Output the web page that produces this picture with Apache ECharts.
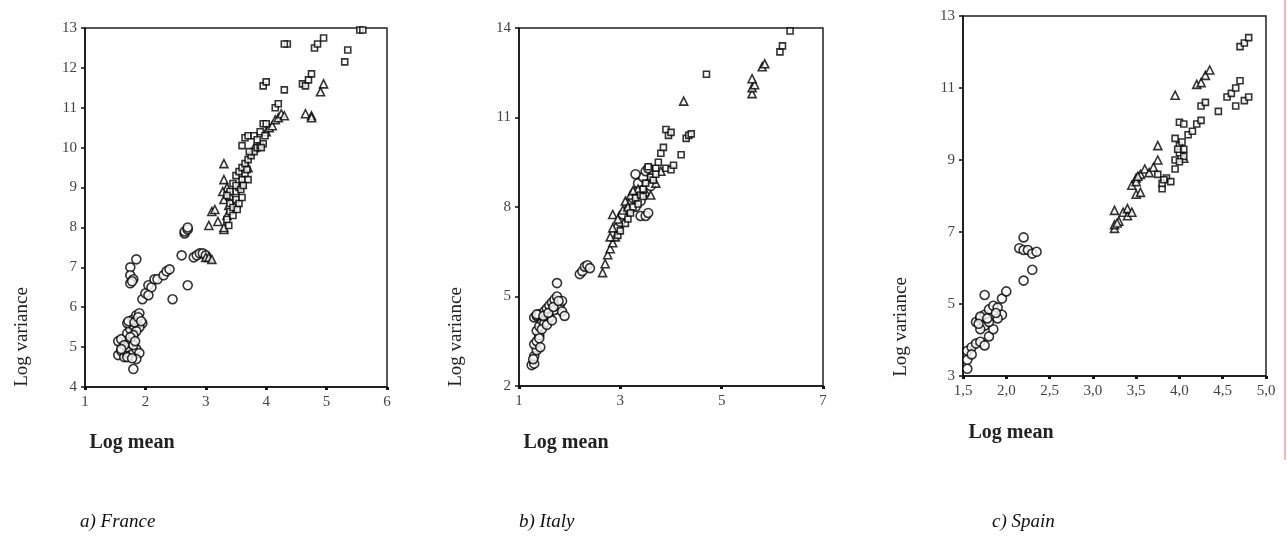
<!DOCTYPE html>
<html>
<head>
<meta charset="utf-8">
<script src="https://cdn.jsdelivr.net/npm/echarts@6/dist/echarts.min.js"></script>
<style>
html,body{margin:0;padding:0;background:#fff;}
#c{width:1287px;height:536px;}
</style>
</head>
<body>
<div id="c"></div>
<script>
// ---------- France ----------
const franceCircles = [[1.55,5.15],[1.6,5.2],[1.55,4.8],[1.6,4.9],[1.65,4.75],[1.7,4.85],[1.75,4.8],[1.8,4.9],[1.85,4.95],[1.7,5.0],[1.75,5.1],[1.8,5.05],[1.9,4.85],[1.85,4.7],[1.8,4.45],[1.7,5.35],[1.75,5.45],[1.8,5.55],[1.75,5.65],[1.7,5.6],[1.8,5.7],[1.85,5.8],[1.9,5.85],[1.95,5.6],[1.9,5.5],[1.85,5.4],[1.8,5.3],[1.75,5.25],[1.65,5.05],[1.6,4.95],
  [1.7,4.75],[1.78,4.72],[1.83,5.15],[1.72,5.65],[1.82,5.62],[1.88,5.75],[1.93,5.65],
  [1.75,7.0],[1.75,6.8],[1.8,6.7],[1.75,6.6],[1.85,7.2],[1.78,6.65],
  [1.95,6.2],[2.0,6.35],[2.05,6.55],[2.1,6.5],[2.15,6.7],[2.2,6.7],[2.3,6.8],[2.35,6.9],[2.4,6.95],[2.05,6.3],
  [2.45,6.2],[2.6,7.3],[2.7,6.55],[2.65,7.85],[2.65,7.9],[2.7,7.95],[2.7,8.0],
  [2.8,7.25],[2.85,7.3],[2.9,7.35],[2.95,7.35],[3.0,7.3]];
const franceTriangles = [[3.0,7.25],[3.05,7.25],[3.1,7.2],[3.05,8.05],[3.1,8.4],[3.15,8.45],[3.2,8.15],[3.3,9.6],[3.3,9.2],[3.3,8.7],[3.35,9.0],[3.3,7.95],[3.3,8.0],[3.35,8.3],[3.4,8.8],[3.5,8.6],[3.6,9.1],[3.7,9.5],[3.8,10.0],[4.0,10.4],[4.05,10.5],[4.1,10.55],[4.15,10.7],[4.2,10.75],[4.25,10.85],[4.3,10.8],[4.65,10.85],[4.75,10.8],[4.75,10.75],[4.95,11.6],[4.9,11.4],[3.28,8.9],[3.38,8.55]];
const franceSquares = [[3.35,8.2],[3.4,8.4],[3.4,8.6],[3.45,8.5],[3.5,8.7],[3.5,8.9],[3.55,8.6],[3.6,8.75],[3.55,9.0],[3.6,9.2],[3.5,9.3],[3.55,9.4],[3.6,9.5],[3.65,9.35],[3.7,9.2],[3.65,9.6],[3.7,9.7],[3.75,9.8],[3.8,9.9],[3.85,10.0],[3.9,10.05],[3.95,10.1],[3.6,10.05],[3.65,10.25],[3.7,10.3],[3.8,10.3],[3.9,10.4],[3.95,10.6],[4.0,10.6],[4.15,11.0],[4.2,11.1],[3.95,11.55],[4.0,11.65],[4.3,11.45],[4.35,12.6],[4.3,12.6],[4.6,11.6],[4.65,11.55],[4.7,11.7],[4.75,11.85],[4.8,12.5],[4.85,12.6],[4.95,12.75],[5.3,12.15],[5.35,12.45],[5.55,12.95],[5.6,12.95],[3.4,8.9],[3.45,9.1],[3.35,8.8],[3.5,9.05],
  [3.38,8.05],[3.45,8.3],[3.52,8.45],[3.58,8.95],[3.62,9.05],[3.68,9.45],[3.72,9.9],[3.85,10.2],[3.98,10.3],[3.92,10.0]];

// ---------- Italy ----------
const italyCircles = [[1.25,2.7],[1.3,2.75],[1.3,3.0],[1.35,3.2],[1.3,3.4],[1.35,3.5],[1.4,3.7],[1.35,3.85],[1.4,4.0],[1.45,4.2],[1.3,4.3],[1.35,4.35],[1.4,4.4],[1.5,4.5],[1.55,4.6],[1.6,4.7],[1.65,4.8],[1.7,4.9],[1.75,5.0],[1.6,4.3],[1.5,4.1],[1.45,3.9],[1.55,4.05],[1.7,4.55],[1.8,4.7],[1.85,4.5],[1.9,4.35],[1.85,4.85],[1.75,5.45],[1.65,4.2],[1.4,3.6],[1.35,4.4],
  [1.28,2.9],[1.42,3.3],[1.48,4.35],[1.58,4.45],[1.68,4.65],[1.78,4.85],
  [2.2,5.75],[2.25,5.85],[2.3,6.0],[2.35,6.05],[2.4,5.95],
  [2.95,7.3],[3.0,7.5],[3.05,7.75],[3.15,7.9],[3.2,8.1],[3.3,8.0],[3.4,7.7],[3.5,7.7],[3.55,7.8],[3.3,8.5],[3.35,8.8],[3.45,9.0],[3.5,9.2],[3.55,9.3],[3.6,8.7],[3.3,9.1],[3.25,8.3],[3.4,8.2]];
const italyTriangles = [[2.65,5.8],[2.7,6.1],[2.75,6.4],[2.8,6.6],[2.85,6.8],[2.9,7.0],[2.85,7.3],[2.8,7.0],[2.85,7.75],[2.95,7.6],[3.05,7.9],[3.1,8.2],[3.2,8.4],[3.35,8.6],[3.5,8.5],[3.6,8.4],[3.7,8.8],[3.8,9.2],[4.25,11.55],[5.6,11.8],[5.6,12.0],[5.65,12.1],[5.6,12.3],[5.8,12.7],[5.85,12.8],[3.15,8.0],[3.25,8.55]];
const italySquares = [[2.95,7.05],[3.0,7.2],[3.1,7.45],[3.15,7.6],[3.25,8.0],[3.3,8.3],[3.4,8.4],[3.45,8.6],[3.5,8.8],[3.6,9.0],[3.65,8.9],[3.7,9.3],[3.75,9.5],[3.8,9.8],[3.85,10.0],[3.95,10.4],[3.9,10.6],[4.0,10.5],[3.9,9.3],[4.0,9.25],[4.05,9.4],[4.2,9.75],[4.3,10.3],[4.35,10.4],[4.4,10.45],[4.7,12.45],[6.15,13.2],[6.2,13.4],[6.35,13.9],[3.55,9.35],[3.7,9.1],[3.2,7.8],[3.35,8.1],[3.45,8.35]];

// ---------- Spain ----------
const spainCircles = [[1.55,3.2],[1.55,3.45],[1.55,3.7],[1.6,3.8],[1.6,3.6],[1.65,3.9],[1.7,3.95],[1.65,4.5],[1.7,4.6],[1.75,4.7],[1.8,4.85],[1.75,4.4],[1.7,4.3],[1.8,4.1],[1.75,3.85],[1.85,4.3],[1.8,4.5],[1.85,4.95],[1.9,4.9],[1.95,5.15],[2.0,5.35],[1.95,4.7],[1.9,4.6],[1.75,5.25],[1.7,4.65],[2.15,6.55],[2.2,6.5],[2.2,6.85],[2.25,6.5],[2.3,6.4],[2.35,6.45],[2.2,5.65],[2.3,5.95],[1.68,4.45],[1.78,4.6],[1.88,4.75]];
const spainTriangles = [[3.25,7.1],[3.25,7.2],[3.3,7.3],[3.25,7.6],[3.35,7.55],[3.4,7.45],[3.4,7.65],[3.45,7.55],[3.45,8.3],[3.5,8.5],[3.55,8.6],[3.5,8.05],[3.55,8.1],[3.6,8.75],[3.65,8.65],[3.7,8.8],[3.75,9.0],[3.75,9.4],[3.95,10.8],[4.05,9.05],[4.2,11.1],[4.25,11.15],[4.3,11.35],[4.35,11.5],[3.5,8.4],[3.28,7.25],[3.52,8.55]];
const spainSquares = [[3.8,8.2],[3.8,8.35],[3.85,8.5],[3.75,8.6],[3.9,8.4],[3.95,8.75],[3.95,9.0],[4.0,9.2],[4.0,9.4],[3.95,9.6],[4.05,9.3],[4.0,10.05],[4.05,10.0],[4.1,9.7],[4.15,9.8],[4.2,10.0],[4.25,10.1],[4.25,10.5],[4.3,10.6],[4.45,10.35],[4.55,10.75],[4.6,10.85],[4.65,11.0],[4.7,11.2],[4.65,10.5],[4.75,10.65],[4.8,10.75],[4.7,12.15],[4.75,12.25],[4.8,12.4],[4.05,9.1],[4.0,8.95],[3.98,9.3],[4.03,9.5],[3.82,8.45]];

// axis ranges / ticks
const franceX = {min:1, max:6, interval:1};
const franceY = {min:4, max:13, interval:1};
const italyX = {min:1, max:7, interval:2};
const italyY = {min:2, max:14, interval:3};
const spainX = {min:1.5, max:5.0, interval:0.5};
const spainY = {min:3, max:13, interval:2};

const captions = ['a) France', 'b) Italy', 'c) Spain'];
const xName = 'Log mean', yName = 'Log variance';

const FONT = '"Liberation Serif", "DejaVu Serif", serif';
const chart = echarts.init(document.getElementById('c'), null, {renderer:'canvas'});

const grids = [
  {left:85, top:28, width:302, height:359},
  {left:519, top:28, width:304, height:358},
  {left:963, top:16, width:303, height:360}
];
function xAx(i, r, fmt){
  return {type:'value', gridIndex:i, min:r.min, max:r.max, interval:r.interval,
    axisLine:{show:true, onZero:false, lineStyle:{color:'#111', width:1.5}},
    axisTick:{show:true, length:3, lineStyle:{color:'#111', width:3}},
    splitLine:{show:false},
    axisLabel:{color:'#444', fontFamily:FONT, fontSize:15, margin:8, formatter:fmt}};
}
function yAx(i, r){
  return {type:'value', gridIndex:i, min:r.min, max:r.max, interval:r.interval,
    axisLine:{show:true, onZero:false, lineStyle:{color:'#111', width:1.5}},
    axisTick:{show:true, length:4, lineStyle:{color:'#111', width:1.5}},
    splitLine:{show:false},
    axisLabel:{color:'#444', fontFamily:FONT, fontSize:15, margin:8}};
}
const commaFmt = v => v.toFixed(1).replace('.', ',');

const circle = 'circle';
const square = 'rect';
const tri = 'triangle';
function sc(i, data, sym, size){
  return {type:'scatter', xAxisIndex:i, yAxisIndex:i, data:data, symbol:sym, symbolSize:size,
    itemStyle:{color:'#fff', borderColor:'#000', borderWidth:1.6}, silent:true, animation:false};
}

const graphic = [];
const capPos = [[80,522],[519,522],[992,522]];
captions.forEach((t,k)=>graphic.push({type:'text', left:capPos[k][0], top:capPos[k][1]-10,
  style:{text:t, font:'italic 19px '+FONT, fill:'#111'}}));
const xNamePos = [[132,443],[566,443],[1011,433]];
const yNamePos = [[22,337],[456,337],[901,327]];
xNamePos.forEach(p=>graphic.push({type:'text', x:p[0], y:p[1], style:{text:xName, font:'bold 20px '+FONT, fill:'#222', align:'center', verticalAlign:'middle'}}));
yNamePos.forEach(p=>graphic.push({type:'text', x:p[0], y:p[1], rotation:Math.PI/2, style:{text:yName, font:'19px '+FONT, fill:'#222', align:'center', verticalAlign:'middle'}}));
graphic.push({type:'line', shape:{x1:1285, y1:0, x2:1285, y2:460}, style:{stroke:'#f2a0a0', lineWidth:1.5}});

chart.setOption({
  animation:false,
  backgroundColor:'#fff',
  grid: grids.map(g=>Object.assign({show:true, borderColor:'#222', borderWidth:1.5, backgroundColor:'transparent'}, g)),
  xAxis:[xAx(0,franceX), xAx(1,italyX), xAx(2,spainX,commaFmt)],
  yAxis:[yAx(0,franceY), yAx(1,italyY), yAx(2,spainY)],
  series:[
    sc(0,franceCircles,circle,9), sc(0,franceTriangles,tri,8), sc(0,franceSquares,square,6),
    sc(1,italyCircles,circle,9), sc(1,italyTriangles,tri,8), sc(1,italySquares,square,6),
    sc(2,spainCircles,circle,9), sc(2,spainTriangles,tri,8), sc(2,spainSquares,square,6)
  ],
  graphic: graphic
});
</script>
</body>
</html>
